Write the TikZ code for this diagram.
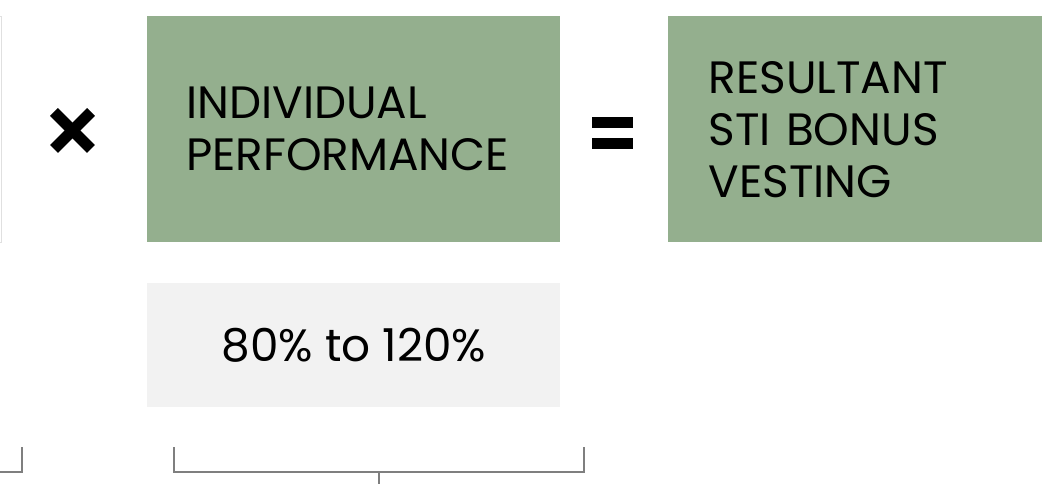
\documentclass[tikz,border=0pt]{standalone}
\usepackage{fontspec}
\setmainfont{Poppins}
\usetikzlibrary{positioning}
\definecolor{sage}{HTML}{94AF8E}
\definecolor{panel}{HTML}{F2F2F2}
\definecolor{brack}{HTML}{7F7F7F}
\tikzset{
	greenbox/.style={fill=sage, inner ysep=0pt, align=left, font=\fontsize{34}{39}\selectfont},
	greybox/.style={fill=panel, inner sep=0pt, align=center, font=\fontsize{34}{39}\selectfont},
	bracket/.style={draw=brack, line width=1.5pt},
}

\begin{document}
\begin{tikzpicture}[x=0.75pt, y=-0.75pt]
			%%%%% START %%%%%
			
			\clip (0, 0) rectangle (1042, 484);
			
			% box cut off at the left edge
			\draw[color=black!12] (-300, 16) rectangle (1, 242);
			
			% times sign
			\draw[line width=8.25pt] (54, 112) -- (91, 149);
			\draw[line width=8.25pt] (54, 149) -- (91, 112);
			
			\node[greenbox, anchor=north west, inner xsep=29.25pt, text width=251.25pt, minimum width=309.75pt, minimum height=169.5pt] (indiv) at (147, 16) {INDIVIDUAL\\PERFORMANCE};
			\node[greybox, minimum width=309.75pt, minimum height=93pt, below=30pt of indiv] (range) {80\% to 120\%};
			
			% equals sign
			\fill (592, 117) rectangle (633, 128);
			\fill (592, 138) rectangle (633, 149);
			
			\node[greenbox, inner xsep=30.75pt, text width=222pt, minimum width=283.5pt, minimum height=169.5pt, right=80.25pt of indiv] (result) {RESULTANT\\STI BONUS\\VESTING};
			
			% brackets
			\draw[bracket] (-10, 472) -- (22, 472) -- (22, 447);
			\draw[bracket] (174, 447) -- (174, 472) -- (584, 472) -- (584, 447);
			\draw[bracket] (379, 472) -- (379, 484);
			
			%%%%% END %%%%%
		\end{tikzpicture}
\end{document}
